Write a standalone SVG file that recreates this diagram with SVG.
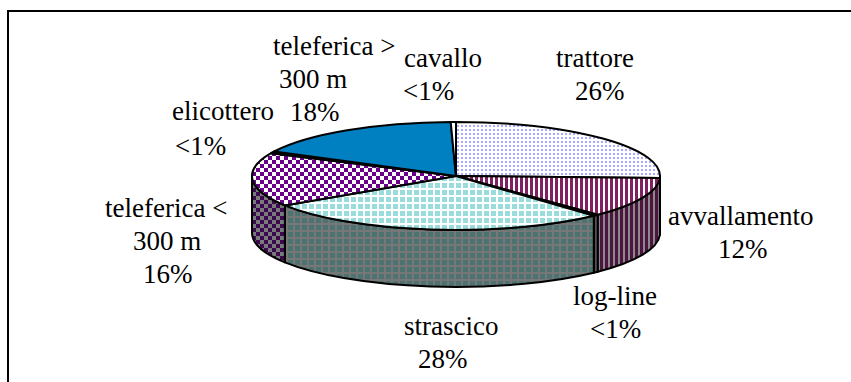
<svg xmlns="http://www.w3.org/2000/svg" width="851" height="382" viewBox="0 0 851 382">
<style>
.lbl{font-family:"Liberation Serif","Times New Roman",serif;font-size:27px;fill:#000}
.edge{stroke:#000;stroke-width:2;stroke-linejoin:round}
</style>
<defs>
<pattern id="pTrat" width="4" height="4" patternUnits="userSpaceOnUse"><rect width="4" height="4" fill="#fff"/><rect x="1" y="1" width="2" height="2" fill="#a8a8ff"/></pattern>
<pattern id="pAvvT" width="5" height="5" patternUnits="userSpaceOnUse"><rect width="5" height="5" fill="#fff"/><rect width="3" height="5" fill="#802060"/></pattern>
<pattern id="pAvvS" width="5" height="5" patternUnits="userSpaceOnUse"><rect width="5" height="5" fill="#8a8a8a"/><rect width="3" height="5" fill="#4e1440"/></pattern>
<pattern id="pStrT" width="7" height="7" patternUnits="userSpaceOnUse"><rect width="7" height="7" fill="#fff"/><rect x="1" y="1" width="5" height="5" fill="#9adcdc"/></pattern>
<pattern id="pStrS" width="7" height="7" patternUnits="userSpaceOnUse"><rect width="7" height="7" fill="#777"/><rect x="1" y="1" width="5" height="5" fill="#4d7272"/></pattern>
<pattern id="pTelT" width="8" height="8" patternUnits="userSpaceOnUse"><rect width="8" height="8" fill="#fff"/><rect width="4" height="4" fill="#680088"/><rect x="4" y="4" width="4" height="4" fill="#680088"/></pattern>
<pattern id="pTelS" width="8" height="8" patternUnits="userSpaceOnUse"><rect width="8" height="8" fill="#7a7a7a"/><rect width="4" height="4" fill="#3c0850"/><rect x="4" y="4" width="4" height="4" fill="#3c0850"/></pattern>
</defs>
<g id="frame" fill="none" stroke="#000" stroke-width="2">
<path d="M8,382 V11 H851"/>
</g>
<g id="sides" class="edge">
<path id="side-trattore" fill="url(#pTrat)" d="M660,176 A204,54 0 0 1 659.9,177.9 L659.9,234.9 A204,54 0 0 0 660,233 Z"/>
<path id="side-avvallamento" fill="url(#pAvvS)" d="M659.9,177.9 A204,54 0 0 1 597.7,214.8 L597.7,271.8 A204,54 0 0 0 659.9,234.9 Z"/>
<path id="side-logline" fill="#555" d="M597.7,214.8 A204,54 0 0 1 593.8,215.8 L593.8,272.8 A204,54 0 0 0 597.7,271.8 Z"/>
<path id="side-strascico" fill="url(#pStrS)" d="M593.8,215.8 A204,54 0 0 1 284.9,205.4 L284.9,262.4 A204,54 0 0 0 593.8,272.8 Z"/>
<path id="side-telmin" fill="url(#pTelS)" d="M284.9,205.4 A204,54 0 0 1 252,176 L252,233 A204,54 0 0 0 284.9,262.4 Z"/>
</g>
<g id="top" class="edge">
<path id="trattore" fill="url(#pTrat)" d="M456,176 L456,122 A204,54 0 0 1 659.9,177.9 Z"/>
<path id="avvallamento" fill="url(#pAvvT)" d="M456,176 L659.9,177.9 A204,54 0 0 1 597.7,214.8 Z"/>
<path id="log-line" fill="#fff" d="M456,176 L597.7,214.8 A204,54 0 0 1 593.8,215.8 Z"/>
<path id="strascico" fill="url(#pStrT)" d="M456,176 L593.8,215.8 A204,54 0 0 1 284.9,205.4 Z"/>
<path id="teleferica-min" fill="url(#pTelT)" d="M456,176 L284.9,205.4 A204,54 0 0 1 271.1,153.2 Z"/>
<path id="elicottero" fill="#fff" d="M456,176 L271.1,153.2 A204,54 0 0 1 274.2,151.5 Z"/>
<path id="teleferica-mag" fill="#0080c0" d="M456,176 L274.2,151.5 A204,54 0 0 1 450.7,122 Z"/>
<path id="cavallo" fill="#fff" d="M456,176 L450.7,122 A204,54 0 0 1 456,122 Z"/>
</g>
<g id="labels" class="lbl">
<text x="273" y="55">teleferica &gt;</text>
<text x="279" y="88">300 m</text>
<text x="290" y="121">18%</text>
<text x="404" y="67">cavallo</text>
<text x="403" y="100">&lt;1%</text>
<text x="556" y="67">trattore</text>
<text x="575" y="100">26%</text>
<text x="172" y="120">elicottero</text>
<text x="175" y="155">&lt;1%</text>
<text x="105" y="217">teleferica &lt;</text>
<text x="133" y="250">300 m</text>
<text x="143" y="283">16%</text>
<text x="668" y="225">avvallamento</text>
<text x="718" y="258">12%</text>
<text x="573" y="305">log-line</text>
<text x="590" y="338">&lt;1%</text>
<text x="404" y="335">strascico</text>
<text x="418" y="368">28%</text>
</g>
</svg>
